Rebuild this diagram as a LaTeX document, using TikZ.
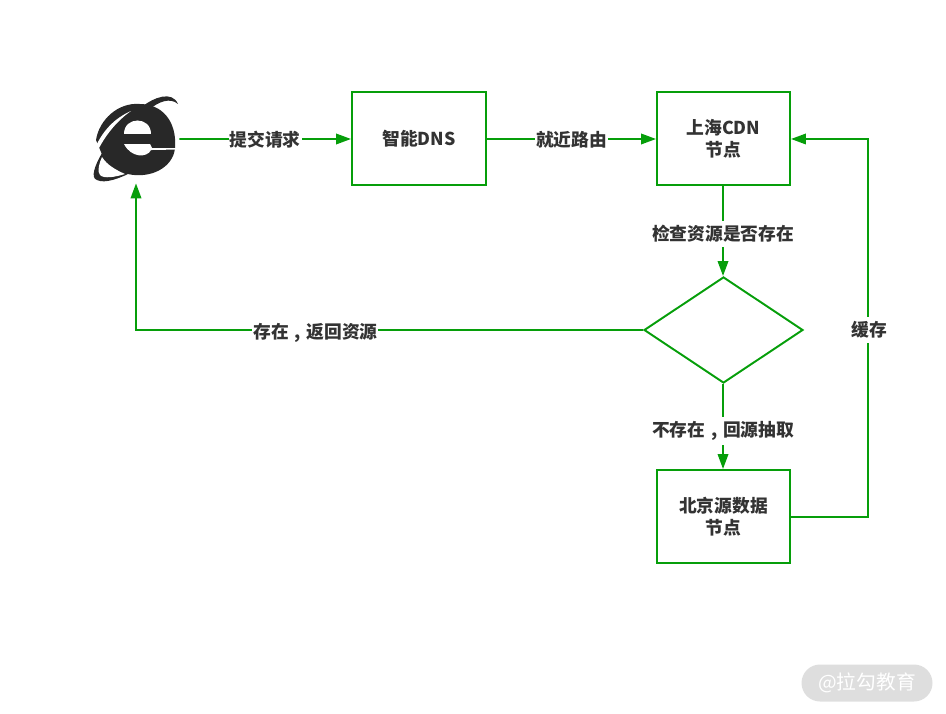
\documentclass[tikz,border=0pt]{standalone}
\usepackage{fontspec}
\setmainfont{Noto Sans CJK SC}
\usetikzlibrary{arrows.meta,calc,positioning,shapes.geometric}
\definecolor{flowgreen}{RGB}{6,158,10}
\definecolor{ink}{RGB}{51,51,51}
\definecolor{iconink}{RGB}{40,40,40}
\definecolor{pillgray}{RGB}{222,222,222}
\newcommand{\midcomma}{\makebox[1em][c]{,}}

\begin{document}
\begin{tikzpicture}[
  x=1cm,y=1cm,
  font=\fontsize{10.1}{12.5}\selectfont\bfseries,
  station/.style={rectangle,draw=flowgreen,line width=1.1pt,minimum width=2.66cm,
                  minimum height=1.86cm,align=center,text=ink,inner sep=0pt},
  check/.style={diamond,draw=flowgreen,line width=1.1pt,minimum width=3.18cm,
                minimum height=2.12cm,inner sep=0pt},
  flow/.style={-{Triangle[length=3mm,width=2.1mm]},draw=flowgreen,line width=1.1pt},
  lab/.style={fill=white,text=ink,inner xsep=.5pt,inner ysep=2.5pt,yshift=-.02cm}
]
\useasboundingbox (0,0) rectangle (18.92,14.26);

% Browser icon, laid out in pixels of the picture.
\node[minimum width=1.72cm,minimum height=1.76cm,inner sep=0pt] (browser) at (2.72,11.48) {};
\begin{scope}[shift={(0,14.26)},x=.02cm,y=-.02cm]
  \fill[iconink] (175,148) .. controls (177,120) and (161,104) .. (140,104)
    .. controls (118,102) and (99,120) .. (96,140)
    -- (101,152) .. controls (104,160) and (114,171) .. (128,174)
    .. controls (150,179) and (173,168) .. (175,148) -- cycle;
  % upper swoosh
  \fill[iconink] (143,106) .. controls (153,98) and (172,90) .. (178,104)
    .. controls (170,97) and (158,102) .. (150,109) -- cycle;
  % lower swoosh
  \fill[iconink] (102,153) .. controls (95,165) and (90,178) .. (97,180)
    .. controls (105,184) and (120,178) .. (130,173) -- (110,160) -- cycle;
  \fill[white] (102,157) .. controls (99,163) and (97,172) .. (100,175)
    .. controls (104,179) and (115,177) .. (125,174)
    .. controls (116,170) and (107,165) .. (102,157) -- cycle;
  % counter and opening of the letter
  \fill[white] (124,134) .. controls (124,116) and (151,116) .. (151,134) -- cycle;
  \fill[white] (124,144) -- (150,144) -- (152,148) -- (178,148) -- (178,149.5) -- (151,150)
    .. controls (147,158) and (131,158) .. (124,144) -- cycle;
  % white slash
  \fill[white] (131,111) .. controls (115,118) and (103,130) .. (95,148)
    -- (98,150) .. controls (106,134) and (118,120) .. (131,111) -- cycle;
\end{scope}

% Stations and the check.
\node[station,minimum width=2.68cm] (dns) at (8.38,11.49) {智能DNS};
\node[station] (shanghai) at (14.47,11.49) {上海CDN\\节点};
\node[check] (exists) at (14.47,7.66) {};
\node[station] (beijing) at (14.47,3.93) {北京源数据\\节点};
\coordinate (cachetop) at (17.36,11.48);

% Request path.
\draw[flow] (browser.east) -- node[lab] {提交请求} ([yshift=-.01cm]dns.west);
\draw[flow] ([yshift=-.01cm]dns.east) -- node[lab] {就近路由} ([yshift=-.01cm]shanghai.west);
\draw[flow] ([xshift=-.01cm]shanghai.south) -- node[lab,pos=.52] {检查资源是否存在} ([xshift=-.01cm]exists.north);
\draw[flow] (exists.west) -| node[lab,pos=.323,yshift=-.04cm] {存在\midcomma 返回资源} (browser.south);
\draw[flow] ([xshift=-.01cm]exists.south) -- node[lab,pos=.54] {不存在\midcomma 回源抽取} ([xshift=-.01cm]beijing.north);
\draw[flow] ([yshift=-.01cm]beijing.east) -| node[lab,pos=.75,xshift=.02cm,yshift=-.02cm] {缓存} (cachetop) -- ([yshift=-.01cm]shanghai.east);

% Watermark.
\node[rounded corners=.37cm,fill=pillgray,minimum width=2.62cm,minimum height=.74cm,
  inner sep=0pt,text=white,font=\fontsize{11.2}{13}\selectfont] (mark) at (17.34,.6) {@拉勾教育};
\end{tikzpicture}
\end{document}
